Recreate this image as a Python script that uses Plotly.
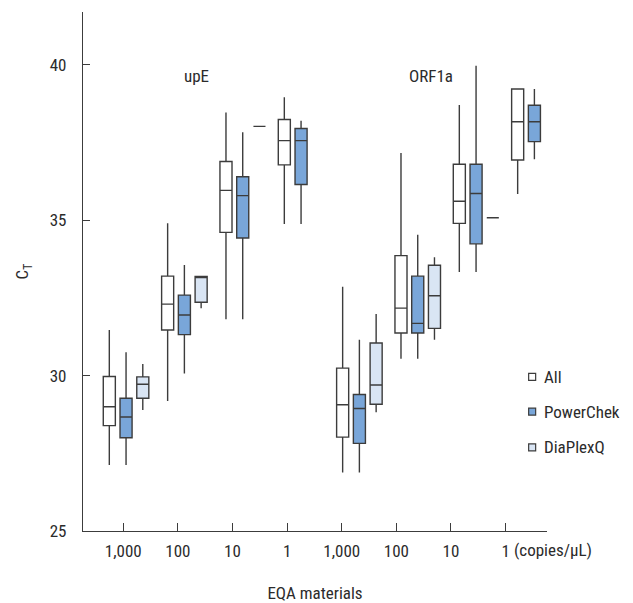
import plotly.graph_objects as go

# ---- data ----
categories = ["1,000", "100", "10", "1", "1,000", "100", "10", "1"]
genes = ["upE", "ORF1a"]
series_names = ["All", "PowerChek", "DiaPlexQ"]

# per series: lower whisker, q1, median, q3, upper whisker (None = not present)
all_low = [27.12, 29.18, 31.81, 34.88, 26.88, 30.54, 33.33, 35.84]
all_q1 = [28.39, 31.47, 34.61, 36.78, 28.02, 31.37, 34.90, 36.94]
all_med = [29.00, 32.30, 35.96, 37.56, 29.06, 32.17, 35.61, 38.17]
all_q3 = [29.97, 33.20, 36.89, 38.24, 30.24, 33.86, 36.80, 39.22]
all_high = [31.47, 34.90, 38.47, 38.96, 32.86, 37.16, 38.71, 39.22]

pc_low = [27.12, 30.07, 31.81, 34.88, 26.88, 30.54, 33.33, 36.96]
pc_q1 = [28.00, 31.32, 34.43, 36.15, 27.82, 31.37, 34.24, 37.53]
pc_med = [28.67, 31.95, 35.79, 37.56, 28.94, 31.68, 35.86, 38.17]
pc_q3 = [29.27, 32.59, 36.40, 37.95, 29.39, 33.20, 36.80, 38.70]
pc_high = [30.75, 33.56, 37.83, 38.20, 31.15, 34.53, 39.97, 39.22]

dq_low = [28.89, 32.17, 38.02, None, 28.82, 31.15, 35.08, None]
dq_q1 = [29.27, 32.36, 38.02, None, 29.08, 31.52, 35.08, None]
dq_med = [29.72, 33.19, 38.02, None, 29.70, 32.57, 35.08, None]
dq_q3 = [29.96, 33.19, 38.02, None, 31.05, 33.55, 35.08, None]
dq_high = [30.37, 33.19, 38.02, None, 31.98, 33.81, 35.08, None]

# ---- style ----
FONT = "Roboto Condensed, Liberation Sans, sans-serif"
FS = 17
TXT = "#2b2b2b"
LINE = "#3c3c3c"
fills = ["#ffffff", "#79a6d9", "#d9e5f4"]

series = [
    (all_low, all_q1, all_med, all_q3, all_high),
    (pc_low, pc_q1, pc_med, pc_q3, pc_high),
    (dq_low, dq_q1, dq_med, dq_q3, dq_high),
]

fig = go.Figure()
for name, fill, (lo, q1, md, q3, hi) in zip(series_names, fills, series):
    idx = [i for i in range(len(categories)) if md[i] is not None]
    fig.add_trace(go.Box(
        name=name,
        x=idx,
        lowerfence=[lo[i] for i in idx],
        q1=[q1[i] for i in idx],
        median=[md[i] for i in idx],
        q3=[q3[i] for i in idx],
        upperfence=[hi[i] for i in idx],
        fillcolor=fill,
        line=dict(color=LINE, width=1.4),
        whiskerwidth=0,
        boxpoints=False,
        showlegend=False,
        hoverinfo="skip",
    ))

# tick positions (the axis ticks in the original are spaced slightly tighter than the box groups)
tick_scale = 0.9363
tick_offset = -0.048
tickvals = [tick_offset + tick_scale * i for i in range(len(categories))]
ticktext = list(categories)
ticktext[-1] = "1"

# the page body has an 8px margin, so the figure is sized/offset to compensate
fig.update_layout(
    width=625, height=595,
    margin=dict(l=75, r=86, t=4, b=72, autoexpand=False),
    paper_bgcolor="white", plot_bgcolor="white",
    boxmode="group", boxgap=0.139, boxgroupgap=0.28,
    font=dict(family=FONT, size=FS, color=TXT),
    showlegend=False,
)
fig.update_xaxes(
    range=[-0.738, 7.216], tickvals=tickvals, ticktext=ticktext, automargin=False,
    showline=True, linecolor=LINE, linewidth=1.3, mirror=False,
    ticks="inside", ticklen=8, tickcolor=LINE, tickwidth=1.3,
    showgrid=False, zeroline=False, ticklabelstandoff=4,
    title=dict(text="EQA materials", standoff=27, font=dict(size=FS)),
)
fig.update_yaxes(
    range=[25, 41.7], tickvals=[25, 30, 35, 40], automargin=False,
    showline=True, linecolor=LINE, linewidth=1.3,
    ticks="inside", ticklen=7, tickcolor=LINE, tickwidth=1.3,
    showgrid=False, zeroline=False, ticklabelstandoff=12,
    title=dict(text="C<sub>T</sub>", standoff=16, font=dict(size=FS)),
)

# "(copies/µL)" unit after the last tick label
fig.add_annotation(x=tickvals[-1], y=0, xref="x", yref="paper", text="(copies/µL)",
                   showarrow=False, xanchor="left", yanchor="middle", xshift=6, yshift=-19,
                   font=dict(size=FS, color=TXT))

# gene labels
gene_pos = [(1.20, 39.64), (5.22, 39.64)]
for g, (gx, gy) in zip(genes, gene_pos):
    fig.add_annotation(x=gx, y=gy, text=g, showarrow=False, font=dict(size=FS, color=TXT))

# manual legend
leg_y = [0.297, 0.230, 0.161]
for name, fill, ly in zip(series_names, fills, leg_y):
    fig.add_shape(type="rect", xref="paper", yref="paper", xsizemode="pixel", ysizemode="pixel",
                  xanchor=0.968, yanchor=ly, x0=-3.5, x1=3.5, y0=-3.5, y1=3.5,
                  fillcolor=fill, line=dict(color=LINE, width=1.2))
    fig.add_annotation(x=0.99, y=ly, xref="paper", yref="paper", text=name, showarrow=False,
                       xanchor="left", yanchor="middle", font=dict(size=FS, color=TXT))

fig.write_html("out.html")
